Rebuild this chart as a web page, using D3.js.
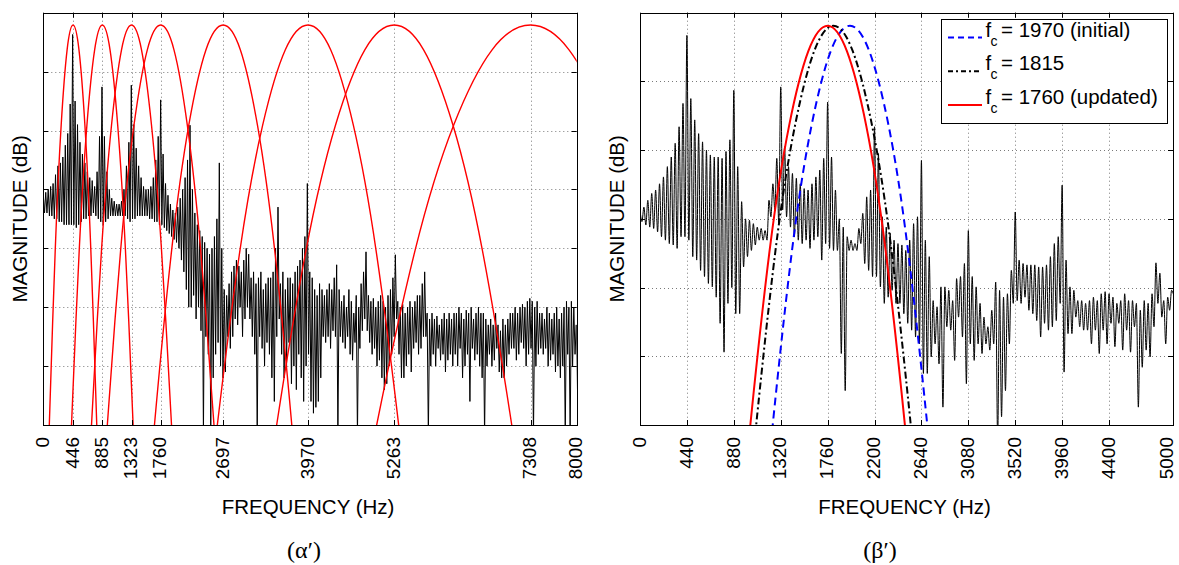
<!DOCTYPE html>
<html>
<head>
<meta charset="utf-8">
<script src="https://cdn.jsdelivr.net/npm/d3@7"></script>
<style>
  body { margin: 0; background: #fff; }
  svg { display: block; }
</style>
</head>
<body>
<script>
'use strict';

// ---------- data ----------
// spectrum read as one lobe top + one lobe trough per bin of 440/12 Hz
const binHz = 440 / 12;

const leftTops = [
  -31, -30.5, -30, -29.5, -29, -27.5, -26, -25.5, -24.5, -22.5, -20.5, -15.5,
  -3.7, -15, -19, -22, -24, -25.5, -27, -28, -28.5, -29.5, -27, -21,
  -12.6, -21, -27, -30, -31.5, -32, -32.5, -32.5, -32, -30, -26, -22,
  -12.3, -19, -23, -26, -28, -29.5, -30, -30, -29.5, -28, -25, -21,
  -14.8, -24, -29, -31, -32.5, -33.5, -34, -33, -31.5, -30, -28, -25,
  -19.1, -30, -34, -36, -37, -38, -39, -40, -41, -40, -38, -35,
  -25.5, -40, -47, -48, -46, -44, -43, -42, -43, -44, -42, -40,
  -41, -45, -44, -46, -45, -44, -47, -46, -45, -45, -44, -40,
  -33, -46, -44, -47, -45, -45, -46, -44, -43, -42, -40, -38,
  -29, -44, -45, -47, -48, -46, -47, -48, -47, -46, -47, -45,
  -42.8, -47, -49, -48, -50, -47, -49, -51, -48, -50, -46, -44,
  -40.6, -48, -49, -48.5, -50, -49, -48, -49, -50, -48, -47, -45,
  -41.1, -49, -50, -49.5, -51, -50, -49, -50, -49, -48, -48, -46,
  -44, -51, -52, -51, -52, -51.5, -53, -52, -51, -52, -51, -52,
  -51, -51, -50, -51, -52, -50.5, -51, -50, -52, -51, -50, -51,
  -51, -52, -53, -52, -53, -51, -53, -54, -52, -53, -52, -51,
  -51, -50, -51, -50, -49.5, -50, -49, -48.5, -49, -50, -49, -51,
  -51, -52, -50, -51, -52, -51, -50, -52, -51, -50, -49, -50, -49, -50, -53
];
const leftBottoms = [
  -34, -34, -34.5, -34.5, -35, -35, -35.5, -35.5, -36, -36, -36, -36,
  -36, -36.5, -36, -35.5, -35, -35, -34.5, -34.5, -34, -34.5, -35, -35.5,
  -36, -35.5, -35, -34.5, -34.5, -34.5, -34.5, -34.5, -34.5, -34.5, -35, -35.5,
  -35, -35, -34.5, -34.5, -34.5, -34.5, -34.5, -35, -35, -35.5, -35.5, -36,
  -36, -36.5, -37, -37.5, -38, -38.5, -39, -40, -42, -44, -47, -50,
  -50, -48, -52, -50, -54, -72, -55, -58, -72, -62, -58, -56,
  -60, -62, -61, -55, -57, -55, -52, -53, -50, -55, -52, -50,
  -52, -55, -58, -72, -55, -57, -60, -56, -58, -62, -66, -55,
  -52, -58, -62, -60, -56, -63, -60, -64, -58, -62, -66, -60,
  -58, -66, -68, -67, -66, -62, -55, -56, -55, -57, -54, -55,
  -72, -55, -56, -57, -55, -58, -59, -56, -72, -57, -54, -52,
  -54, -56, -58, -57, -60, -59, -62, -64, -63, -60, -58, -55,
  -52, -58, -62, -62, -60, -58, -61, -57, -56, -58, -57, -55,
  -55, -72, -60, -58, -60, -57, -59, -58, -61, -59, -58, -60,
  -58, -60, -57, -62, -60, -58, -66, -57, -59, -58, -60, -62,
  -72, -60, -58, -60, -59, -57, -61, -62, -62, -60, -58, -57,
  -57, -59, -58, -56, -57, -60, -58, -57, -72, -60, -58, -57,
  -58, -57, -60, -59, -58, -61, -60, -62, -60, -72, -58, -72, -60, -58, -64
];

const rightTops = [
  -28.7, -28.3, -27.3, -26.3, -25.8, -24.9, -23.9, -22.4, -21.0, -19.0, -16.6, -13.2,
  -3.3, -12.5, -15.6, -17.6, -18.8, -20.0, -20.7, -21.0, -21.0, -21.2, -20.2, -18.5,
  -11.3, -22.4, -27.5, -30.0, -30.2, -30.7, -31.2, -31.4, -31.7, -27.3, -24.9, -21.2,
  -10.8, -19.5, -22.4, -23.4, -24.1, -24.9, -25.6, -25.8, -24.9, -23.9, -22.9, -21.2,
  -13.0, -21.0, -25.8, -30.0, -31.2, -32.6, -33.1, -33.6, -31.4, -29.2, -26.8, -25.8,
  -16.6, -20.5, -29.7, -31.2, -32.1, -33.1, -33.6, -33.8, -34.6, -33.1, -30.7, -29.7,
  -21.5, -33.1, -35.5, -41.9, -42.8, -39.9, -39.9, -40.4, -41.9, -38.7, -38.4, -36.5,
  -31.7, -38.4, -39.9, -42.3, -44.3, -45.7, -43.3, -39.2, -40.4, -41.4, -40.9, -37.5,
  -29.0, -36.0, -36.5, -36.7, -36.7, -36.7, -37.0, -37.0, -36.7, -35.5, -33.6, -32.6,
  -25.1, -36.0, -39.9, -40.4, -41.9, -41.9, -42.3, -41.9, -41.4, -41.9, -40.9, -40.6,
  -40.9, -41.4, -42.3, -41.9, -40.9, -41.9, -41.9, -42.3, -43.3, -41.9, -42.3, -40.9,
  -36.4, -37.9, -41.9, -41.4, -40.4
];
const rightBottoms = [
  -30.4, -30.9, -31.2, -31.4, -31.9, -32.6, -33.1, -33.6, -33.8, -34.3, -32.6, -32.6,
  -33.1, -35.5, -36.0, -37.5, -38.4, -39.4, -39.9, -41.4, -45.2, -49.4, -42.3, -40,
  -43.8, -43.8, -37.0, -35.5, -34.6, -33.8, -33.1, -33.1, -33.1, -29.7, -28.7, -30.7,
  -28.7, -29.7, -31.2, -32.6, -33.1, -33.6, -33.1, -34.3, -33.1, -32.6, -36.0, -33.6,
  -34.3, -34.6, -34.6, -49.6, -55.0, -34.6, -34.6, -34.6, -33.6, -36.5, -37.5, -38.4,
  -38.4, -39.9, -42.3, -41.4, -40.4, -42.3, -42.3, -43.8, -45.2, -46.2, -47.2, -48.2,
  -52.5, -52.5, -50.1, -48.2, -51.1, -57.4, -45.7, -46.2, -50.6, -44.3, -47.2, -54.0,
  -48.2, -50.6, -48.2, -49.6, -48.2, -49.1, -48.2, -62, -58.8, -55.0, -48.2, -42.3,
  -41.9, -42.3, -41.4, -43.3, -43.8, -44.8, -47.2, -45.2, -46.2, -45.7, -44.8, -42.3,
  -52.3, -46.7, -46.7, -44.3, -45.7, -46.2, -46.2, -48.2, -46.2, -49.6, -46.2, -48.2,
  -45.2, -48.6, -45.2, -49.1, -46.2, -49.4, -45.7, -57.4, -51.6, -49.1, -50.1, -45.7,
  -42.3, -44.3, -48.2, -43.3, -41
];

const leftTicks = [0, 446, 885, 1323, 1760, 2697, 3970, 5263, 7308, 8000];
const rightTicks = [0, 440, 880, 1320, 1760, 2200, 2640, 3080, 3520, 3960, 4400, 5000];

// filter responses (dB) read at matching frequencies
const bankLevels = [-84.3, -70, -40.3, -19.1, -6.3, -2.1, -6.3, -19.1, -40.3, -70, -84.3];
const bankFreqs = [
  [54, 90, 179, 268, 357, 446, 535, 624, 713, 802, 838],
  [377, 423, 539, 654, 770, 885, 1001, 1116, 1232, 1347, 1393],
  [663, 723, 873, 1023, 1173, 1323, 1473, 1623, 1773, 1923, 1983],
  [880, 960, 1160, 1360, 1560, 1760, 1960, 2160, 2360, 2560, 2640],
  [1564, 1667, 1925, 2182, 2440, 2697, 2955, 3212, 3470, 3727, 3830],
  [2474, 2610, 2950, 3290, 3630, 3970, 4310, 4650, 4990, 5330, 5466],
  [3324, 3500, 3941, 4382, 4822, 5263, 5704, 6145, 6585, 7026, 7202],
  [4769, 5000, 5577, 6154, 6731, 7308, 7885, 8462, 9039, 9616, 9847]
];

const fcLevels = [-72.2, -60, -34.6, -16.5, -5.6, -1.9, -5.6, -16.5, -34.6, -60, -72.2];
const fcInitial = [1173, 1245, 1426, 1608, 1789, 1970, 2151, 2333, 2514, 2695, 2768];
const fcMiddle = [1018, 1090, 1271, 1453, 1634, 1815, 1996, 2178, 2359, 2540, 2613];
const fcUpdated = [963, 1035, 1216, 1398, 1579, 1760, 1941, 2123, 2304, 2485, 2558];
const legendText = ['= 1970 (initial)', '= 1815', '= 1760 (updated)'];

// ---------- drawing ----------
const W = 1179, H = 565;
const TOP = 12.7, BOTTOM = 425;
const sans = "'Liberation Sans', Arial, Helvetica, sans-serif";
const serif = "'Liberation Serif', 'DejaVu Serif', serif";

const svg = d3.select('body').append('svg')
  .attr('width', W)
  .attr('height', H);

function crisp(v) { return Math.round(v) + 0.5; }

function lobes(tops, bottoms) {
  let pts = [];
  tops.forEach((t, i) => {
    pts.push([i * binHz, t]);
    pts.push([i * binHz + binHz / 2, bottoms[i]]);
  });
  return pts;
}

function panel(id, x0, x1, fMax, dbMin, ticks, edgeNudge) {
  const x = d3.scaleLinear().domain([0, fMax]).range([x0, x1]);
  const y = d3.scaleLinear().domain([dbMin, 0]).range([BOTTOM, TOP]);
  const g = svg.append('g');

  g.append('clipPath').attr('id', id)
    .append('rect')
    .attr('x', x0).attr('y', TOP)
    .attr('width', x1 - x0).attr('height', BOTTOM - TOP);

  const yTicks = d3.range(dbMin, 0.1, 10);

  // dotted grid
  const grid = g.append('g')
    .attr('stroke', '#7a7a7a')
    .attr('stroke-width', 1)
    .attr('stroke-dasharray', '1,3');
  ticks.slice(1, -1).forEach(t => {
    grid.append('line')
      .attr('x1', crisp(x(t))).attr('x2', crisp(x(t)))
      .attr('y1', TOP).attr('y2', BOTTOM);
  });
  yTicks.slice(1, -1).forEach(t => {
    grid.append('line')
      .attr('x1', x0).attr('x2', x1)
      .attr('y1', crisp(y(t))).attr('y2', crisp(y(t)));
  });

  const plot = g.append('g').attr('clip-path', `url(#${id})`);

  // frame and inward ticks
  const frame = g.append('g').attr('stroke', '#000').attr('stroke-width', 1).attr('fill', 'none');
  frame.append('rect')
    .attr('x', crisp(x0)).attr('y', crisp(TOP))
    .attr('width', Math.round(x1) - Math.round(x0))
    .attr('height', Math.round(BOTTOM) - Math.round(TOP));
  ticks.forEach(t => {
    const xx = crisp(x(t));
    frame.append('line').attr('x1', xx).attr('x2', xx).attr('y1', BOTTOM).attr('y2', BOTTOM - 5);
    frame.append('line').attr('x1', xx).attr('x2', xx).attr('y1', TOP).attr('y2', TOP + 5);
  });
  yTicks.forEach(t => {
    const yy = crisp(y(t));
    frame.append('line').attr('x1', x0).attr('x2', x0 + 5).attr('y1', yy).attr('y2', yy);
    frame.append('line').attr('x1', x1).attr('x2', x1 - 5).attr('y1', yy).attr('y2', yy);
  });

  // rotated tick labels (last one pulled in a little if it sits on the page edge)
  const last = ticks.length - 1;
  g.append('g').selectAll('text').data(ticks).enter().append('text')
    .attr('transform', d => `translate(${x(d)},${BOTTOM + 12}) rotate(-90)`)
    .attr('dy', (d, i) => (i === last && edgeNudge) ? '0.02em' : '0.3em')
    .attr('text-anchor', 'end')
    .style('font-family', sans)
    .style('font-size', '19px')
    .text(d => d);

  // axis titles
  g.append('text')
    .attr('x', (x0 + x1) / 2 - 2).attr('y', 514)
    .attr('text-anchor', 'middle')
    .style('font-family', sans).style('font-size', '20.5px')
    .text('FREQUENCY (Hz)');
  g.append('text')
    .attr('transform', `translate(${x0 - 16},${(TOP + BOTTOM) / 2}) rotate(-90)`)
    .attr('text-anchor', 'middle')
    .style('font-family', sans).style('font-size', '20.5px')
    .text('MAGNITUDE (dB)');

  return {x, y, plot};
}

function trace(p, pts, curve) {
  return d3.line()
    .x(d => p.x(d[0]))
    .y(d => p.y(d[1]))
    .curve(curve)(pts);
}

// ---- panel (a) ----
const pa = panel('clipA', 43.3, 576.7, 8000, -70, leftTicks, false);

pa.plot.append('path')
  .attr('d', trace(pa, lobes(leftTops, leftBottoms), d3.curveLinear))
  .attr('fill', 'none')
  .attr('stroke', '#000')
  .attr('stroke-width', 1);

bankFreqs.forEach(fr => {
  pa.plot.append('path')
    .attr('d', trace(pa, fr.map((f, i) => [f, bankLevels[i]]), d3.curveNatural))
    .attr('fill', 'none')
    .attr('stroke', '#ff0000')
    .attr('stroke-width', 1.4);
});

svg.append('text')
  .attr('x', 304).attr('y', 558)
  .attr('text-anchor', 'middle')
  .style('font-family', serif)
  .style('font-size', '24px')
  .text('(α′)');

// ---- panel (b) ----
const pb = panel('clipB', 640, 1173, 5000, -60, rightTicks, true);

pb.plot.append('path')
  .attr('d', trace(pb, lobes(rightTops, rightBottoms), d3.curveMonotoneX))
  .attr('fill', 'none')
  .attr('stroke', '#000')
  .attr('stroke-width', 1);

const fcSeries = [
  {freqs: fcInitial, color: '#0000ff', dash: '8,5', key: '6,4'},
  {freqs: fcMiddle, color: '#000000', dash: '7,3,2,3', key: '5,3,2,3'},
  {freqs: fcUpdated, color: '#ff0000', dash: null, key: null}
];

fcSeries.forEach(s => {
  pb.plot.append('path')
    .attr('d', trace(pb, s.freqs.map((f, i) => [f, fcLevels[i]]), d3.curveNatural))
    .attr('fill', 'none')
    .attr('stroke', s.color)
    .attr('stroke-width', 2)
    .attr('stroke-dasharray', s.dash);
});

// legend
const lg = svg.append('g');
lg.append('rect')
  .attr('x', 941.5).attr('y', 19.5)
  .attr('width', 226).attr('height', 104)
  .attr('fill', '#fff')
  .attr('stroke', '#000');
fcSeries.forEach((s, i) => {
  const by = 36.5 + i * 33.7;
  lg.append('line')
    .attr('x1', 948).attr('x2', 982)
    .attr('y1', by + 1).attr('y2', by + 1)
    .attr('stroke', s.color)
    .attr('stroke-width', 2)
    .attr('stroke-dasharray', s.key);
  lg.append('text').attr('x', 985.5).attr('y', by)
    .style('font-family', sans).style('font-size', '20.5px').text('f');
  lg.append('text').attr('x', 990.5).attr('y', by + 9)
    .style('font-family', sans).style('font-size', '14px').text('c');
  lg.append('text').attr('x', 1001).attr('y', by)
    .style('font-family', sans).style('font-size', '20.5px').text(legendText[i]);
});

svg.append('text')
  .attr('x', 880).attr('y', 558)
  .attr('text-anchor', 'middle')
  .style('font-family', serif)
  .style('font-size', '24px')
  .text('(β′)');
</script>
</body>
</html>
